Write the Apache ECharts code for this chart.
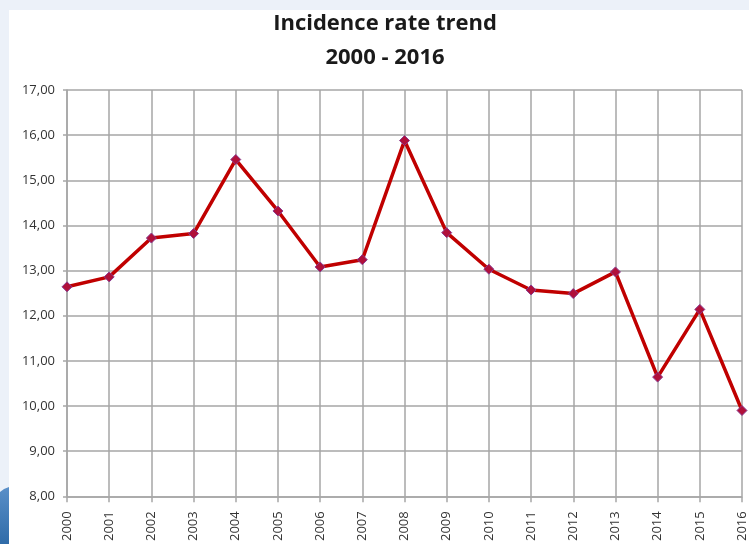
<!DOCTYPE html>
<html>
<head>
<meta charset="utf-8">
<script src="https://cdn.jsdelivr.net/npm/echarts@6/dist/echarts.min.js"></script>
<style>
html,body{margin:0;padding:0;background:#ECF1F9;}
#c{width:749px;height:544px;}
</style>
</head>
<body>
<div id="c"></div>
<script>
var years = ['2000','2001','2002','2003','2004','2005','2006','2007','2008','2009','2010','2011','2012','2013','2014','2015','2016'];
var rates = [12.64, 12.86, 13.72, 13.82, 15.46, 14.32, 13.08, 13.24, 15.88, 13.84, 13.03, 12.57, 12.49, 12.97, 10.64, 12.14, 9.90];
var titleLines = ['Incidence rate trend', '2000 - 2016'];

var chart = echarts.init(document.getElementById('c'));
var gridColor = '#A6A6A6';
chart.setOption({
  backgroundColor: '#ECF1F9',
  animation: false,
  graphic: [
    {type:'rect', shape:{x:9, y:10, width:740, height:534}, style:{fill:'#FFFFFF'}, z:-10},
    {type:'polygon', shape:{points:[[0,492],[4,489],[9,487],[9,544],[0,544]]},
     style:{fill:new echarts.graphic.LinearGradient(0,0,0,1,[{offset:0,color:'#5A8FC8'},{offset:1,color:'#2F6BA8'}])}, z:-10}
  ],
  title: {
    text: titleLines.join('\n'),
    left: 380, textAlign: 'center', top: 2,
    textStyle: {fontFamily:'Open Sans', fontWeight:'bold', fontSize:22, color:'#1a1a1a', lineHeight:34}
  },
  grid: {left:67, right:7, top:90, bottom:46, containLabel:false},
  xAxis: {
    type:'category', data: years, boundaryGap:false,
    axisLine:{show:true, lineStyle:{color:gridColor, width:1.5}},
    axisTick:{show:true, length:6, alignWithLabel:true, lineStyle:{color:gridColor, width:1.5}},
    axisLabel:{rotate:90, fontFamily:'Open Sans', fontSize:13, color:'#333', margin:15, interval:0},
    splitLine:{show:true, lineStyle:{color:gridColor, width:1.5}}
  },
  yAxis: {
    type:'value', min:8, max:17, interval:1,
    axisLine:{show:true, lineStyle:{color:gridColor, width:1.5}},
    axisTick:{show:true, length:4, lineStyle:{color:gridColor, width:1.5}},
    axisLabel:{fontFamily:'Open Sans', fontSize:13, color:'#333', margin:12,
      formatter:function(v){return v.toFixed(2).replace('.', ',');}},
    splitLine:{show:true, lineStyle:{color:gridColor, width:1.5}}
  },
  series: [{
    type:'line', data: rates,
    lineStyle:{color:'#C00000', width:3.5},
    symbol:'diamond', symbolSize:10,
    itemStyle:{color:'#B0103A', borderColor:'#8A3A8F', borderWidth:1}
  }]
});
</script>
</body>
</html>
